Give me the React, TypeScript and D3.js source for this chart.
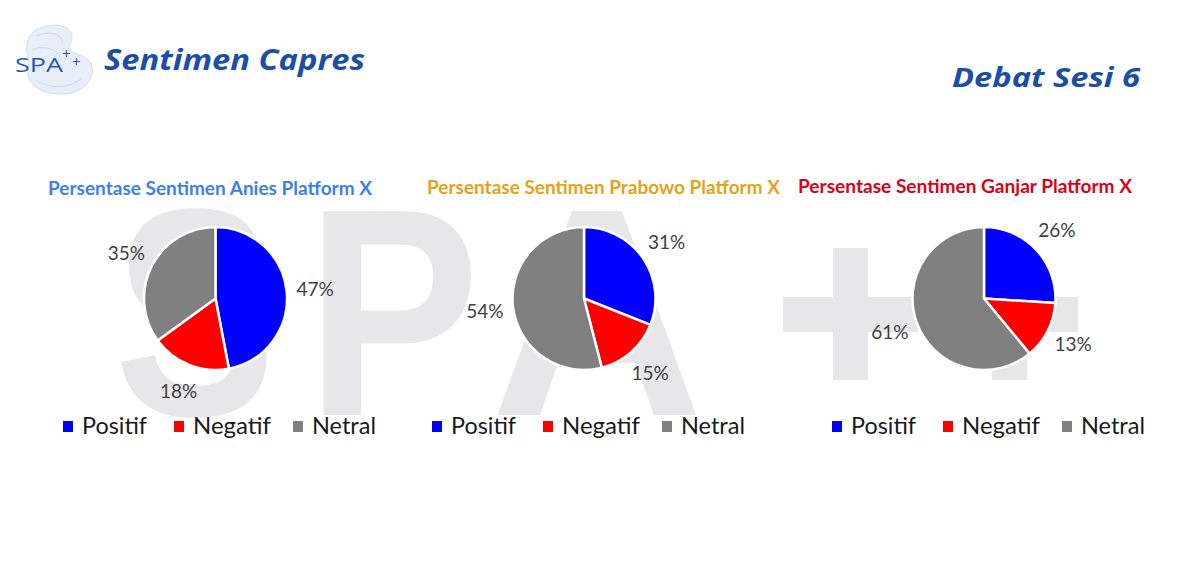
import React from "react";
import * as d3 from "d3";

const categories = ["Positif", "Negatif", "Netral"];
const sliceColors = ["#0000ff", "#ff0000", "#808080"];
const candidates = ["Anies", "Prabowo", "Ganjar"];
const chartTitles = [
  "Persentase Sentimen Anies Platform X",
  "Persentase Sentimen Prabowo  Platform X",
  "Persentase Sentimen Ganjar Platform X",
];
const titleColors = ["#3d7fee", "#e5a11c", "#dc0016"];
const aniesValues = [47, 18, 35];
const prabowoValues = [31, 15, 54];
const ganjarValues = [26, 13, 61];
const seriesValues = [aniesValues, prabowoValues, ganjarValues];

const W = 1200;
const H = 565;

const panels = [
  { cx: 215.5, cy: 298.5, titleX: 48, titleW: 324, titleY: 195, legendX: 63 },
  { cx: 584, cy: 298.5, titleX: 427, titleW: 353, titleY: 194, legendX: 432 },
  { cx: 984, cy: 298.5, titleX: 798, titleW: 334, titleY: 193, legendX: 832 },
];
const legendOffsets = [0, 111, 230];
const legendTextW = [65, 78, 64];

const FONT = "Lato, 'Open Sans', 'Noto Sans', sans-serif";
const WM = "#e7e7e9";

function Pie({ values, cx, cy }: { values: number[]; cx: number; cy: number }) {
  const pie = d3.pie<number>().sort(null).value((d) => d);
  const arcs = pie(values);
  const r = 71.5;
  const arc = d3.arc<d3.PieArcDatum<number>>().innerRadius(0).outerRadius(r);
  const labelArc = d3.arc<d3.PieArcDatum<number>>().innerRadius(100).outerRadius(100);
  const total = d3.sum(values);
  return (
    <g transform={`translate(${cx},${cy})`}>
      {arcs.map((a, i) => (
        <path key={i} d={arc(a) || ""} fill={sliceColors[i]} stroke="#ffffff" strokeWidth={2.5} strokeLinejoin="round" />
      ))}
      {arcs.map((a, i) => {
        const [x, y] = labelArc.centroid(a);
        return (
          <text key={"l" + i} x={x} y={y} dy="0.35em" textAnchor="middle" fontFamily={FONT} fontSize={19} fill="#404040">
            {Math.round((a.value / total) * 100)}%
          </text>
        );
      })}
    </g>
  );
}

export default function App() {
  return (
    <svg width={W} height={H} style={{ position: "absolute", left: 0, top: 0, display: "block", background: "#fff" }}>
      <rect x={0} y={0} width={W} height={H} fill="#ffffff" />
      {/* watermark */}
      <g fill={WM}>
        <text x={0} y={0} transform="translate(195,415) scale(0.82,1)" textAnchor="middle" fontFamily="'Liberation Sans', Arial, sans-serif" fontWeight="bold" fontSize={296}>S</text>
        <text x={0} y={0} transform="translate(393,415) scale(0.88,1)" textAnchor="middle" fontFamily="'Liberation Sans', Arial, sans-serif" fontWeight="bold" fontSize={296}>P</text>
        <text x={0} y={0} transform="translate(597,415) scale(1.0,1)" textAnchor="middle" fontFamily="'Liberation Sans', Arial, sans-serif" fontWeight="bold" fontSize={296}>A</text>
        <rect x={833} y={248} width={35} height={132} />
        <rect x={783} y={297} width={135} height={35} />
        <rect x={992} y={248} width={35} height={132} />
        <rect x={944} y={297} width={134} height={35} />
      </g>

      {/* logo */}
      <g>
        <path d="M40,28 C62,20 78,30 70,44 C64,54 82,52 90,62 C98,74 86,94 62,94 C40,94 26,84 28,70 C30,58 24,50 28,40 C30,34 34,30 40,28 Z" fill="#e9eff9" stroke="#cfdcf0" strokeWidth={1} />
        <path d="M36,36 C50,30 64,34 62,44 M32,50 C44,44 58,50 60,58 M36,80 C50,90 70,88 82,78" fill="none" stroke="#c9d7ee" strokeWidth={1} />
        <text x={15} y={72} fontFamily="'Open Sans', sans-serif" fontSize={20} fill="#2c56b4" fontWeight={400} textLength={48} lengthAdjust="spacingAndGlyphs">SPA</text>
        <text x={62} y={59} fontFamily="'Open Sans', sans-serif" fontSize={15} fill="#2c56b4">+</text>
        <text x={72} y={67} fontFamily="'Open Sans', sans-serif" fontSize={15} fill="#2c56b4">+</text>
      </g>

      {/* header */}
      <text x={104} y={70} fontFamily="'Open Sans', sans-serif" fontStyle="italic" fontWeight={700} fontSize={28} fill="#1d4ea6" textLength={261} lengthAdjust="spacingAndGlyphs">Sentimen Capres</text>
      <text x={952} y={87} fontFamily="'Open Sans', sans-serif" fontStyle="italic" fontWeight={700} fontSize={26} fill="#1d4ea6" textLength={188} lengthAdjust="spacingAndGlyphs">Debat Sesi 6</text>

      {candidates.map((c, k) => {
        const p = panels[k];
        return (
          <g key={c}>
            <text x={p.titleX} y={p.titleY} fontFamily={FONT} fontWeight={700} fontSize={18} fill={titleColors[k]} textLength={p.titleW} lengthAdjust="spacingAndGlyphs">
              {chartTitles[k]}
            </text>
            <Pie values={seriesValues[k]} cx={p.cx} cy={p.cy} />
            {categories.map((cat, i) => {
              const x = p.legendX + legendOffsets[i];
              return (
                <g key={cat}>
                  <rect x={x} y={421} width={10} height={11} fill={sliceColors[i]} />
                  <text x={x + 19} y={434} fontFamily={FONT} fontSize={23} fill="#1a1a1a" textLength={legendTextW[i]} lengthAdjust="spacingAndGlyphs">
                    {cat}
                  </text>
                </g>
              );
            })}
          </g>
        );
      })}
    </svg>
  );
}
